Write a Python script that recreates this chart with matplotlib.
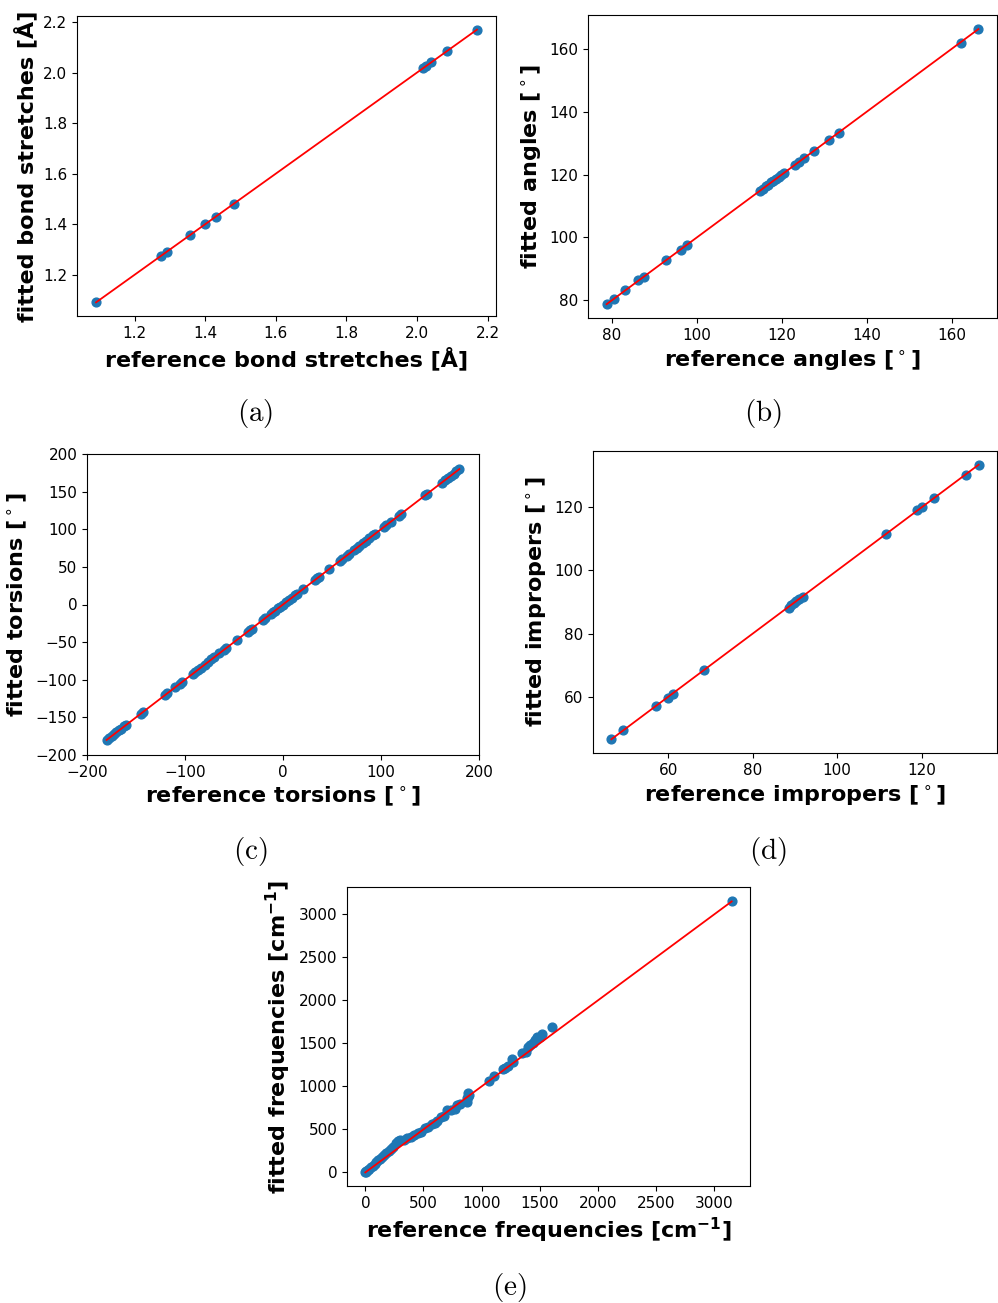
import matplotlib
matplotlib.use("Agg")
import matplotlib.pyplot as plt

plt.rcParams["mathtext.fontset"] = "dejavusans"

W, H = 998, 1303

# (a) bond stretches
bond_ref = [1.09, 1.275, 1.29, 1.355, 1.40, 1.43, 1.48, 2.018, 2.025, 2.04, 2.085, 2.17]
bond_fit = [1.09, 1.275, 1.29, 1.355, 1.40, 1.43, 1.48, 2.018, 2.025, 2.04, 2.085, 2.17]

# (b) angles
angle_ref = [78.8, 80.5, 83.2, 86.3, 87.5, 92.8, 96.2, 97.6, 114.9, 115.5, 116.2, 116.8,
             117.4, 118.0, 118.6, 119.3, 119.9, 120.5, 123.2, 124.0, 125.3, 127.6,
             131.1, 133.4, 162.1, 166.2]
angle_fit = [78.9, 80.4, 83.3, 86.4, 87.6, 92.8, 96.1, 97.7, 114.8, 115.5, 116.3, 116.8,
             117.5, 118.0, 118.7, 119.3, 120.0, 120.6, 123.1, 124.1, 125.2, 127.5,
             131.0, 133.3, 161.9, 166.3]

# (c) torsions
tors_ref = [-180, -178, -175, -172, -170, -167, -165, -162, -160, -145, -143, -120, -118,
            -110, -105, -103, -92, -90, -87, -84, -80, -77, -73, -70, -65, -60, -58,
            -47, -36, -34, -32, -20, -18, -12, -10, -8, -5, -3, 0, 3, 6, 9, 12, 14, 20,
            33, 35, 37, 47, 58, 60, 65, 67, 72, 75, 78, 82, 85, 88, 92, 94, 103, 105,
            110, 118, 120, 145, 147, 162, 165, 168, 171, 174, 177, 180]
tors_fit = [-180, -178, -175, -172, -170, -167, -165, -162, -160, -145, -143, -120, -118,
            -110, -105, -103, -92, -90, -87, -84, -80, -77, -73, -70, -65, -60, -58,
            -47, -36, -34, -32, -20, -18, -12, -10, -8, -5, -3, 0, 3, 6, 9, 12, 14, 20,
            33, 35, 37, 47, 58, 60, 65, 67, 72, 75, 78, 82, 85, 88, 92, 94, 103, 105,
            110, 118, 120, 145, 147, 162, 165, 168, 171, 174, 177, 180]
tors_xticks = [-200, -100, 0, 100, 200]

# (d) impropers
impr_ref = [46.5, 49.2, 57.0, 59.8, 61.0, 68.5, 88.5, 89.0, 89.8, 90.3, 91.0, 91.8,
            111.5, 119.0, 120.2, 123.0, 130.5, 133.5]
impr_fit = [46.6, 49.3, 56.9, 59.7, 60.9, 68.4, 88.2, 89.1, 89.7, 90.4, 90.9, 91.6,
            111.4, 119.1, 120.1, 123.1, 130.4, 133.3]

# (e) frequencies
freq_ref = [0, 5, 10, 20, 35, 50, 65, 80, 95, 110, 125, 140, 160, 180, 200, 220, 240,
            260, 280, 300, 330, 360, 390, 420, 450, 480, 510, 540, 570, 600, 620, 650,
            680, 700, 740, 770, 790, 810, 870, 875, 880, 885, 890, 1060, 1110, 1180,
            1200, 1230, 1260, 1270, 1350, 1380, 1400, 1420, 1440, 1460, 1480, 1500,
            1520, 1605, 3150]
freq_fit = [0, 5, 12, 25, 40, 60, 80, 100, 120, 140, 155, 175, 200, 230, 250, 270, 300,
            340, 370, 375, 380, 400, 410, 440, 460, 470, 520, 530, 560, 580, 600, 640,
            650, 720, 730, 740, 780, 800, 820, 860, 880, 920, 900, 1060, 1120, 1200,
            1210, 1240, 1320, 1280, 1390, 1400, 1460, 1480, 1510, 1540, 1570, 1580,
            1610, 1690, 3160]

panels = [
    (bond_ref, bond_fit, "bond stretches [Å]", (77, 496, 16, 316), "a", (255, 413)),
    (angle_ref, angle_fit, r"angles [$^\circ$]", (588, 997, 15, 318), "b", (763, 413)),
    (tors_ref, tors_fit, r"torsions [$^\circ$]", (87, 479, 454, 755), "c", (250, 851)),
    (impr_ref, impr_fit, r"impropers [$^\circ$]", (593, 997, 451, 753), "d", (768, 851)),
    (freq_ref, freq_fit, r"frequencies [cm$^{\mathbf{-1}}$]", (347, 750, 887, 1186), "e", (509, 1287)),
]

fig = plt.figure(figsize=(W / 100, H / 100), dpi=100)

for ref, fit, name, (l, r, t, b), tag, (cx, cy) in panels:
    ax = fig.add_axes([l / W, (H - b) / H, (r - l) / W, (b - t) / H])
    ax.scatter(ref, fit, s=40, color="#1f77b4")
    ax.plot([min(ref), max(ref)], [min(ref), max(ref)], "r", lw=1.3)
    if tag == "c":
        ax.set_xlim(-200, 200)
        ax.set_ylim(-200, 200)
        ax.set_xticks(tors_xticks)
    ax.set_xlabel("reference " + name, fontsize=16, fontweight="bold")
    ax.set_ylabel("fitted " + name, fontsize=16, fontweight="bold")
    ax.tick_params(labelsize=11)
    fig.text(cx / W, 1 - cy / H, r"$\mathrm{(" + tag + r")}$", ha="center", va="center",
             fontsize=21, math_fontfamily="cm")

fig.savefig("out.png", dpi=100)
